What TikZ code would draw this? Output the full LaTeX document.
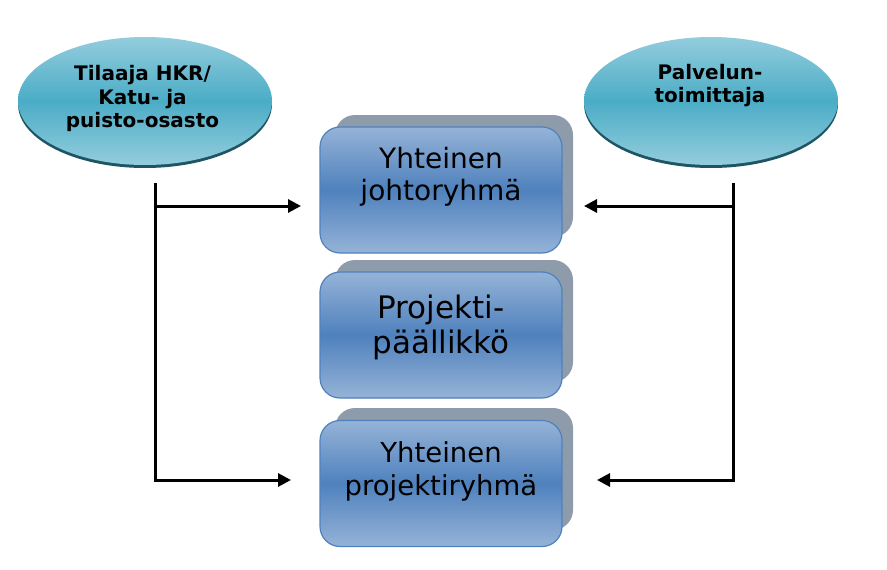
\documentclass[tikz,border=0pt]{standalone}
\usepackage{fontspec}
\setmainfont{DejaVu Sans}
\usetikzlibrary{shapes.geometric,arrows.meta}
\definecolor{elLight}{HTML}{93CDDD}
\definecolor{elDark}{HTML}{4BACC6}
\definecolor{elShadow}{HTML}{1F5563}
\definecolor{bxLight}{HTML}{95B3D7}
\definecolor{bxDark}{HTML}{4F81BD}
\definecolor{bxEdge}{HTML}{4F81BD}
\definecolor{bxShadow}{HTML}{8E9BAA}
\tikzset{
  ellshadow/.style={ellipse, fill=elShadow, minimum width=254pt, minimum height=128pt, inner sep=0pt},
  ellbox/.style={ellipse, top color=elLight, bottom color=elLight, middle color=elDark, minimum width=254pt, minimum height=128pt, inner sep=0pt},
  elltext/.style={font=\fontsize{20}{23.5}\selectfont\bfseries, align=center, inner sep=0pt, text=black},
  backbox/.style={rectangle, rounded corners=20pt, fill=bxShadow, minimum width=238pt, minimum height=122pt, inner sep=0pt},
  frontbox/.style={rectangle, rounded corners=20pt, draw=bxEdge, line width=1.2pt, top color=bxLight, bottom color=bxLight, middle color=bxDark, minimum width=242pt, minimum height=126pt, inner sep=0pt},
  boxtext/.style={align=center, inner sep=0pt, text=black},
  arr/.style={line width=3pt, black, -{Triangle[length=13pt,width=13pt]}}
}
\begin{document}
\begin{tikzpicture}[x=1pt,y=-1pt]
\useasboundingbox (0,0) rectangle (887,570);
% ellipses
\node[ellshadow] (lsh) at (145,104) {};
\node[ellbox] (lell) at (145,101) {};
\node[elltext] (ltxt) at (142.5,98.5) {Tilaaja HKR/\\Katu- ja\\puisto-osasto};
\node[ellshadow] (rsh) at (711,104) {};
\node[ellbox] (rell) at (711,101) {};
\node[elltext] (rtxt) at (710,85.6) {Palvelun-\\toimittaja};
% boxes
\node[backbox] (b1s) at (454,176) {};
\node[frontbox] (b1) at (441,190) {};
\node[boxtext, font=\fontsize{28}{32}\selectfont] (t1) at (441,177) {Yhteinen\\johtoryhmä};
\node[backbox] (b2s) at (454,321) {};
\node[frontbox] (b2) at (441,335) {};
\node[boxtext, font=\fontsize{31}{35}\selectfont] (t2) at (441,327.4) {Projekti-\\päällikkö};
\node[backbox] (b3s) at (454,469) {};
\node[frontbox] (b3) at (441,483.5) {};
\node[boxtext, font=\fontsize{27.5}{33}\selectfont] (t3) at (441,471) {Yhteinen\\projektiryhmä};
% connector points
\coordinate (lt) at (155,183);
\coordinate (lm) at (155,206);
\coordinate (lb) at (155,480);
\coordinate (la1) at (301,206);
\coordinate (la2) at (291,480);
\coordinate (rt) at (733,183);
\coordinate (rm) at (733,206);
\coordinate (rb) at (733,480);
\coordinate (ra1) at (584,206);
\coordinate (ra2) at (597,480);
% connectors
\draw[arr] (lt) -- (lb) -- (la2);
\draw[arr] (lm) -- (la1);
\draw[arr] (rt) -- (rb) -- (ra2);
\draw[arr] (rm) -- (ra1);
\end{tikzpicture}
\end{document}
